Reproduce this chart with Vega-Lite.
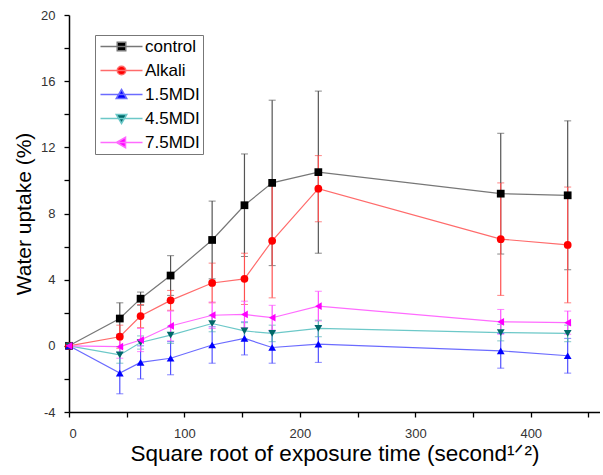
{
  "$schema": "https://vega.github.io/schema/vega-lite/v6.json",
  "width": 531,
  "height": 397,
  "padding": {"left": 13, "top": 9, "right": 0, "bottom": 5},
  "background": "white",
  "config": {
    "view": {"stroke": null},
    "axis": {
      "domainColor": "#000", "domainWidth": 1.5, "tickColor": "#000", "tickWidth": 1.3, "tickSize": 5,
      "labelFont": "Liberation Sans", "labelFontSize": 13, "labelColor": "#333",
      "titleFont": "Liberation Sans", "titleFontSize": 21, "titleFontWeight": "normal", "titleColor": "#000",
      "grid": false
    },
    "legend": {
      "orient": "none", "legendX": 26, "legendY": 20,
      "strokeColor": "#777777", "padding": 3,
      "symbolSize": 100, "symbolOffset": 15, "labelOffset": 15, "symbolStrokeWidth": 1.5,
      "labelFont": "Liberation Sans", "labelFontSize": 17, "labelColor": "#000",
      "rowPadding": 6
    }
  },
  "data": {
    "values": [
      {"s": "control", "x": 0, "y": 0, "e": 0},
      {"s": "control", "x": 44, "y": 1.65, "e": 0.95},
      {"s": "control", "x": 62, "y": 2.85, "e": 0.4},
      {"s": "control", "x": 88, "y": 4.25, "e": 1.2},
      {"s": "control", "x": 124, "y": 6.4, "e": 2.35},
      {"s": "control", "x": 152, "y": 8.5, "e": 3.1},
      {"s": "control", "x": 176, "y": 9.85, "e": 5.0},
      {"s": "control", "x": 216, "y": 10.5, "e": 4.9},
      {"s": "control", "x": 374, "y": 9.2, "e": 3.65},
      {"s": "control", "x": 432, "y": 9.1, "e": 4.5},
      {"s": "Alkali", "x": 0, "y": 0, "e": 0},
      {"s": "Alkali", "x": 44, "y": 0.55, "e": 0.7},
      {"s": "Alkali", "x": 62, "y": 1.8, "e": 0.7},
      {"s": "Alkali", "x": 88, "y": 2.75, "e": 0.6},
      {"s": "Alkali", "x": 124, "y": 3.8, "e": 1.2},
      {"s": "Alkali", "x": 152, "y": 4.05, "e": 1.55},
      {"s": "Alkali", "x": 176, "y": 6.35, "e": 3.45},
      {"s": "Alkali", "x": 216, "y": 9.5, "e": 2.0},
      {"s": "Alkali", "x": 374, "y": 6.45, "e": 3.4},
      {"s": "Alkali", "x": 432, "y": 6.1, "e": 3.5},
      {"s": "1.5MDI", "x": 0, "y": 0, "e": 0},
      {"s": "1.5MDI", "x": 44, "y": -1.65, "e": 1.25},
      {"s": "1.5MDI", "x": 62, "y": -1.0, "e": 1.0},
      {"s": "1.5MDI", "x": 88, "y": -0.75, "e": 1.0},
      {"s": "1.5MDI", "x": 124, "y": 0.05, "e": 1.1},
      {"s": "1.5MDI", "x": 152, "y": 0.45, "e": 1.0},
      {"s": "1.5MDI", "x": 176, "y": -0.1, "e": 0.95},
      {"s": "1.5MDI", "x": 216, "y": 0.1, "e": 1.1},
      {"s": "1.5MDI", "x": 374, "y": -0.3, "e": 1.05},
      {"s": "1.5MDI", "x": 432, "y": -0.6, "e": 1.05},
      {"s": "4.5MDI", "x": 0, "y": 0, "e": 0},
      {"s": "4.5MDI", "x": 44, "y": -0.55, "e": 0.5},
      {"s": "4.5MDI", "x": 62, "y": 0.2, "e": 0.4},
      {"s": "4.5MDI", "x": 88, "y": 0.65, "e": 0.5},
      {"s": "4.5MDI", "x": 124, "y": 1.35, "e": 0.5},
      {"s": "4.5MDI", "x": 152, "y": 0.9, "e": 0.5},
      {"s": "4.5MDI", "x": 176, "y": 0.75, "e": 0.5},
      {"s": "4.5MDI", "x": 216, "y": 1.05, "e": 0.5},
      {"s": "4.5MDI", "x": 374, "y": 0.8, "e": 0.5},
      {"s": "4.5MDI", "x": 432, "y": 0.75, "e": 0.5},
      {"s": "7.5MDI", "x": 0, "y": 0, "e": 0},
      {"s": "7.5MDI", "x": 44, "y": -0.05, "e": 0.7},
      {"s": "7.5MDI", "x": 62, "y": 0.35, "e": 0.7},
      {"s": "7.5MDI", "x": 88, "y": 1.2, "e": 0.9},
      {"s": "7.5MDI", "x": 124, "y": 1.85, "e": 0.8},
      {"s": "7.5MDI", "x": 152, "y": 1.9, "e": 0.8},
      {"s": "7.5MDI", "x": 176, "y": 1.7, "e": 0.75},
      {"s": "7.5MDI", "x": 216, "y": 2.4, "e": 0.9},
      {"s": "7.5MDI", "x": 374, "y": 1.45, "e": 0.75},
      {"s": "7.5MDI", "x": 432, "y": 1.4, "e": 0.7}
    ]
  },
  "encoding": {
    "x": {
      "field": "x", "type": "quantitative",
      "scale": {"domain": [0, 460], "nice": false, "zero": false},
      "axis": {
        "title": "Square root of exposure time (second¹ᐟ²)",
        "titleFontSize": 22.5,
        "values": [0, 50, 100, 150, 200, 250, 300, 350, 400, 450],
        "labelExpr": "datum.value % 100 == 0 ? datum.label : ''",
        "labelPadding": 10, "titlePadding": 2
      }
    },
    "y": {
      "field": "y", "type": "quantitative",
      "scale": {"domain": [-4, 20], "nice": false, "zero": false},
      "axis": {
        "title": "Water uptake (%)",
        "values": [-4, -2, 0, 2, 4, 6, 8, 10, 12, 14, 16, 18, 20],
        "labelExpr": "datum.value % 4 == 0 ? replace(datum.label, '−', '-') : ''",
        "labelPadding": 9, "titlePadding": 6
      }
    }
  },
  "layer": [
    {
      "mark": {"type": "line", "strokeWidth": 1.2},
      "encoding": {
        "color": {
          "field": "s", "type": "nominal", "legend": null,
          "scale": {"domain": ["control", "Alkali", "1.5MDI", "4.5MDI", "7.5MDI"],
                    "range": ["#777777", "#ff6b6b", "#6b6bff", "#6cc8c8", "#ff6bff"]}
        }
      }
    },
    {
      "mark": {"type": "errorbar", "ticks": {"size": 7}, "rule": {"strokeWidth": 1.2}},
      "encoding": {
        "y": {"field": "y", "type": "quantitative"},
        "yError": {"field": "e"},
        "color": {
          "field": "s", "type": "nominal", "legend": null,
          "scale": {"domain": ["control", "Alkali", "1.5MDI", "4.5MDI", "7.5MDI"],
                    "range": ["#555555", "#ff5050", "#5050ff", "#50b0b0", "#ff50ff"]}
        }
      }
    },
    {
      "mark": {"type": "point", "filled": true, "opacity": 1},
      "encoding": {
        "shape": {
          "field": "s", "type": "nominal", "legend": null,
          "scale": {"domain": ["control", "Alkali", "1.5MDI", "4.5MDI", "7.5MDI"],
                    "range": ["square", "circle", "triangle-up", "triangle-down", "triangle-left"]}
        },
        "size": {
          "field": "s", "type": "nominal", "legend": null,
          "scale": {"domain": ["control", "Alkali", "1.5MDI", "4.5MDI", "7.5MDI"],
                    "range": [60, 60, 115, 115, 115]}
        },
        "color": {
          "field": "s", "type": "nominal", "legend": null,
          "scale": {"domain": ["control", "Alkali", "1.5MDI", "4.5MDI", "7.5MDI"],
                    "range": ["#000000", "#ff0000", "#0000ff", "#006868", "#ff00ff"]}
        }
      }
    },
    {
      "transform": [{"filter": "datum.x < -1000"}],
      "mark": {"type": "point", "filled": true, "opacity": 1, "strokeWidth": 1.5},
      "encoding": {
        "shape": {
          "field": "s", "type": "nominal", "legend": {"title": null},
          "scale": {"domain": ["control", "Alkali", "1.5MDI", "4.5MDI", "7.5MDI"],
                    "range": [
                      "M-4.2,0H4.2M-0.85,-0.85H0.85V0.85H-0.85Z",
                      "M-4.2,0H4.2M-0.85,0A0.85,0.85 0 1,0 0.85,0A0.85,0.85 0 1,0 -0.85,0Z",
                      "M-4.2,0H4.2M0,-1L1.05,0.8H-1.05Z",
                      "M-4.2,0H4.2M0,1L1.05,-0.8H-1.05Z",
                      "M-4.2,0H4.2M-1,0L0.8,-1.05V1.05Z"
                    ]}
        },
        "color": {
          "field": "s", "type": "nominal", "legend": {"title": null},
          "scale": {"domain": ["control", "Alkali", "1.5MDI", "4.5MDI", "7.5MDI"],
                    "range": ["#000000", "#ff0000", "#0000ff", "#006868", "#ff00ff"]}
        },
        "stroke": {
          "field": "s", "type": "nominal", "legend": {"title": null},
          "scale": {"domain": ["control", "Alkali", "1.5MDI", "4.5MDI", "7.5MDI"],
                    "range": ["#777777", "#ff6b6b", "#6b6bff", "#6cc8c8", "#ff6bff"]}
        }
      }
    }
  ],
  "resolve": {"scale": {"color": "independent", "shape": "independent", "size": "independent", "stroke": "independent"}}
}
